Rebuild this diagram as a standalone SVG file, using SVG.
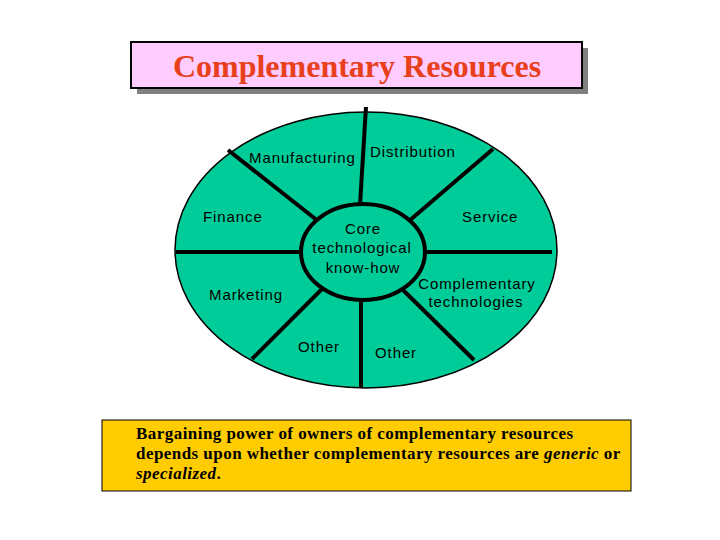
<svg xmlns="http://www.w3.org/2000/svg" width="720" height="540" viewBox="0 0 720 540">
<style>
.lbl{font-family:"Liberation Sans",Arial,sans-serif;font-size:15px;letter-spacing:0.9px;fill:#000}
.spoke{stroke:#000;stroke-width:4;stroke-linecap:butt}
.note{font-family:"Liberation Serif","Times New Roman",serif;font-size:17px;font-weight:bold;letter-spacing:0.45px;fill:#000}
</style>
<rect width="720" height="540" fill="#fff"/>
<g id="title">
<rect x="137" y="48" width="451" height="46" fill="#808080"/>
<rect x="131" y="42" width="451" height="46" fill="#FFCCFF" stroke="#000" stroke-width="2"/>
<text x="357" y="77" text-anchor="middle" font-family="'Liberation Serif','Times New Roman',serif" font-size="32" font-weight="bold" fill="#E8401C">Complementary Resources</text>
</g>
<g id="outer">
<ellipse cx="366" cy="250" rx="191" ry="138" fill="#00CC99" stroke="#000" stroke-width="1.5"/>
</g>
<g id="connectors">
<line class="spoke" x1="360" y1="205" x2="366" y2="107"/>
<line class="spoke" x1="318" y1="221" x2="228" y2="150"/>
<line class="spoke" x1="409" y1="221" x2="493" y2="149"/>
<line class="spoke" x1="176" y1="252" x2="301" y2="252"/>
<line class="spoke" x1="425" y1="252" x2="552" y2="252"/>
<line class="spoke" x1="323" y1="288" x2="252" y2="359"/>
<line class="spoke" x1="361" y1="299" x2="361" y2="388"/>
<line class="spoke" x1="403" y1="290" x2="474" y2="360"/>
</g>
<g id="core">
<ellipse cx="363" cy="252" rx="62" ry="48" fill="#00CC99" stroke="#000" stroke-width="4"/>
<text class="lbl" text-anchor="middle"><tspan x="363" y="234">Core</tspan><tspan x="362" y="253">technological</tspan><tspan x="363" y="273">know-how</tspan></text>
</g>
<g id="manufacturing"><text class="lbl" x="249" y="163">Manufacturing</text></g>
<g id="distribution"><text class="lbl" x="370" y="157">Distribution</text></g>
<g id="finance"><text class="lbl" x="203" y="222">Finance</text></g>
<g id="service"><text class="lbl" x="462" y="222">Service</text></g>
<g id="complementary-tech"><text class="lbl" text-anchor="middle"><tspan x="477" y="289">Complementary</tspan><tspan x="476" y="307">technologies</tspan></text></g>
<g id="marketing"><text class="lbl" x="209" y="300">Marketing</text></g>
<g id="other-left"><text class="lbl" x="298" y="352">Other</text></g>
<g id="other-right"><text class="lbl" x="375" y="358">Other</text></g>
<g id="note">
<rect x="102" y="420" width="529" height="71" fill="#FFCC00" stroke="#000" stroke-width="1"/>
<text class="note" x="136" y="439">Bargaining power of owners of complementary resources</text>
<text class="note" x="136" y="459">depends upon whether complementary resources are <tspan font-style="italic">generic</tspan> or</text>
<text class="note" x="136" y="479"><tspan font-style="italic">specialized</tspan>.</text>
</g>
</svg>
